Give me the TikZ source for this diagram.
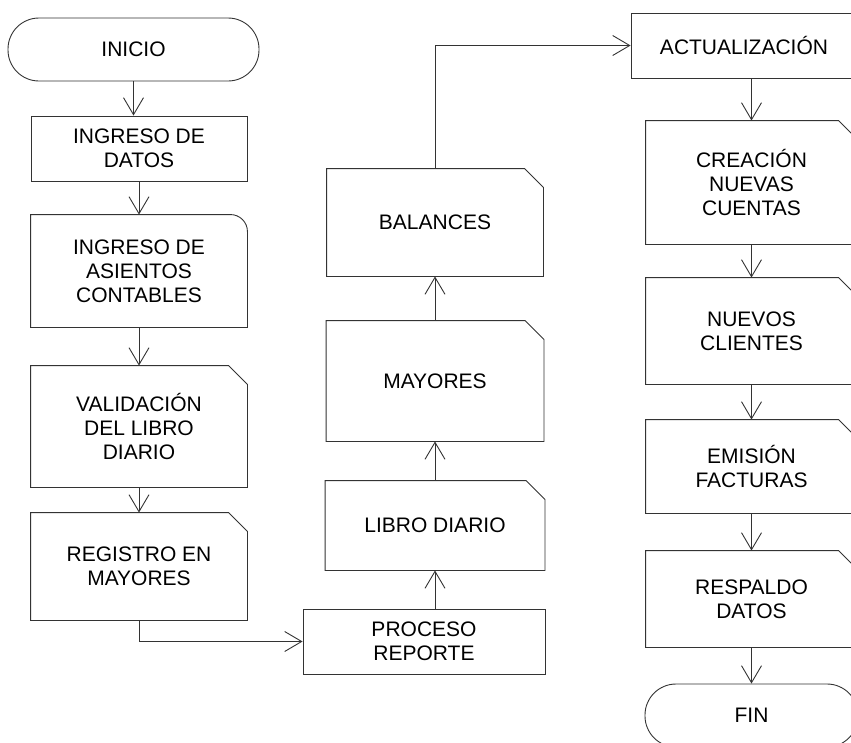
\documentclass[tikz,border=0pt]{standalone}
\usepackage{fontspec}
\setmainfont{Liberation Sans}
\usepackage{tikz}
\usetikzlibrary{arrows.meta}
\tikzstyle{block} = [rectangle, draw=black!80, line width=0.9pt, align=center,
    inner sep=2pt, minimum width=216pt, font=\fontsize{21}{24}\selectfont]
\tikzstyle{doc} = [block, draw=none]
\tikzstyle{term} = [block, rounded corners=31pt, minimum height=63pt]
\tikzstyle{line} = [draw=black!80, line width=0.9pt, -{Straight Barb[length=17pt,width=20pt]}]
\tikzstyle{outline} = [draw=black!80, line width=0.9pt]

\begin{document}
\begin{tikzpicture}[x=1pt, y=1pt]
    \clip (0,0) rectangle (851,-742);
    % Place nodes
    \node [term, minimum width=251pt] (1) at (133.5,-49.5) {INICIO};
    \node [block, minimum height=65pt] (2) at (139,-148.5) {INGRESO DE\\DATOS};
    \node [doc, below of=2, node distance=122.5pt, minimum height=112pt] (3) {INGRESO DE\\ASIENTOS\\CONTABLES};
    \node [doc, below of=3, node distance=155.5pt, minimum height=121pt] (4) {VALIDACIÓN\\DEL LIBRO\\DIARIO};
    \node [doc, below of=4, node distance=140pt, minimum height=107pt] (5) {REGISTRO EN\\MAYORES};
    \node [block, minimum width=242pt, minimum height=65pt] (6) at (424,-641.5) {PROCESO\\REPORTE};
    \node [doc, minimum width=219pt, minimum height=89pt] (7) at (435,-525.5) {LIBRO DIARIO};
    \node [doc, above of=7, node distance=144.5pt, minimum width=217pt, minimum height=120pt] (8) {MAYORES};
    \node [doc, above of=8, node distance=158.5pt, minimum height=107pt] (9) {BALANCES};
    \node [block, minimum width=226pt, minimum height=65pt] (10) at (744,-45.5) {ACTUALIZACIÓN};
    \node [doc, minimum width=211pt, minimum height=123pt] (11) at (751.5,-182.5) {CREACIÓN\\NUEVAS\\CUENTAS};
    \node [doc, below of=11, node distance=148.5pt, minimum width=211pt, minimum height=106pt] (12) {NUEVOS\\CLIENTES};
    \node [doc, below of=12, node distance=135.5pt, minimum width=211pt, minimum height=93pt] (13) {EMISIÓN\\FACTURAS};
    \node [doc, below of=13, node distance=132.5pt, minimum width=211pt, minimum height=96pt] (14) {RESPALDO\\DATOS};
    \node [term, below of=14, node distance=116.5pt, minimum width=213pt] (15) {FIN};

    % Draw outlines
    \draw [outline] (3.south west) -- (3.north west) [rounded corners=17pt] -- (3.north east) [sharp corners] -- (3.south east) -- cycle;
    \foreach \n in {4,5,7,8,9,11,12,13,14}
        \draw [outline] (\n.south west) -- (\n.north west) -- ([xshift=-19pt]\n.north east)
            -- ([yshift=-19pt]\n.north east) -- (\n.south east) -- cycle;

    % Draw edges
    \path [line] (1) -- (1 |- 2.north);
    \path [line] (2) -- (3);
    \path [line] (3) -- (4);
    \path [line] (4) -- (5);
    \path [line] (5) |- (6);
    \path [line] (7 |- 6.north) -- (7);
    \path [line] (7) -- (8);
    \path [line] (8) -- (9);
    \path [line] (9) |- (10);
    \path [line] (11 |- 10.south) -- (11);
    \path [line] (11) -- (12);
    \path [line] (12) -- (13);
    \path [line] (13) -- (14);
    \path [line] (14) -- (15);
\end{tikzpicture}
\end{document}
